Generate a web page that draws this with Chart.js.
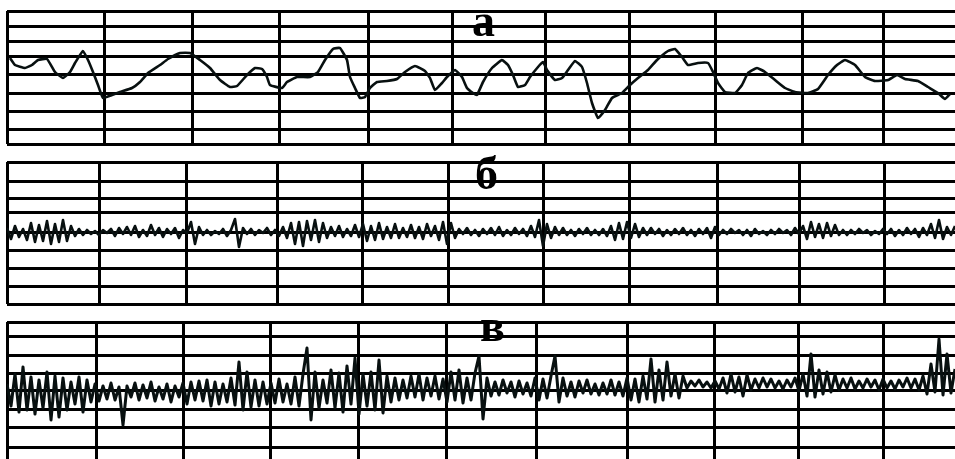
<!DOCTYPE html>
<html>
<head>
<meta charset="utf-8">
<script src="https://cdn.jsdelivr.net/npm/chart.js@4/dist/chart.umd.min.js"></script>
<style>
  html, body { margin: 0; padding: 0; background: #fff; }
  #wrap { position: relative; width: 955px; height: 459px; overflow: hidden; background: #fff; }
  canvas { position: absolute; left: 0; }
  .lbl { position: absolute; font: bold 46px "Liberation Serif", "DejaVu Serif", serif; line-height: 46px; color: #000; z-index: 5; }
</style>
</head>
<body>
<div id="wrap">
  <canvas id="ca" width="955" height="150" style="top:0px"></canvas>
  <canvas id="cb" width="955" height="159" style="top:150px"></canvas>
  <canvas id="cc" width="955" height="149" style="top:310px"></canvas>
  <div class="lbl" style="left:472px; top:-2px">а</div>
  <div class="lbl" style="left:475px; top:151px">б</div>
  <div class="lbl" style="left:480px; top:303px">в</div>
</div>
<script>
// ---------- panel labels ----------
const panelLabels = ["а", "б", "в"];

// ---------- grid (tick) positions ----------
const aTimeTicks = [0, 97, 185, 272, 361, 445, 538, 622, 708, 795, 876];
const bTimeTicks = [0, 92, 179, 270, 355, 441, 536, 622, 710, 792, 877];
const cTimeTicks = [0, 89, 176, 263, 351, 439, 529, 620, 707, 791, 876];
const aLevelTicks = [133, 118, 103, 88, 70, 51, 33, 15, 0];
const bLevelTicks = [70, 51, 34, 19, 0, -18, -36, -54, -72];
const cLevelTicks = [70, 55, 37, 19, 1, -17, -36, -55];

// ---------- trace а (time, value) ----------
const aTime = [3,8,18,25,31,40,48,56,63,68,76,81,86,91,96,105,113,125,133,141,153,161,173,183,193,203,213,223,230,240,248,255,260,263,275,280,290,303,311,318,326,333,340,343,348,353,358,363,370,380,390,398,408,418,423,428,435,440,448,455,460,466,470,476,485,495,501,506,511,518,523,531,536,540,548,555,561,568,575,580,585,591,598,605,615,623,631,641,650,661,668,675,681,691,701,706,711,718,728,735,741,750,758,768,778,788,801,811,821,830,838,848,858,868,881,890,898,911,921,931,938,943];
const aValues = [86,79,76,79,84,85,72,66,72,81,93,84,72,59,46,49,52,56,62,71,79,85,91,91,84,76,64,57,58,69,76,75,67,59,56,62,67,67,72,84,95,96,84,67,56,46,47,56,62,63,65,72,78,73,66,54,61,67,74,67,56,51,49,62,76,84,79,69,57,59,67,77,82,74,64,66,74,83,77,61,41,26,34,46,51,59,66,74,84,93,95,87,79,81,81,72,61,52,51,59,71,76,72,64,56,52,51,55,69,79,84,79,67,63,64,69,65,63,57,51,45,50];

// ---------- trace б (one sample every 4 time units) ----------
const sampleStep = 4;
const bValues = [
  4,-7,6,-5,3,-8,9,-10,7,-9,
  11,-12,8,-10,12,-9,6,-4,3,-3,
  2,-2,1,-3,2,-1,3,-4,4,-2,
  5,-3,6,-5,2,-4,7,-3,4,-5,
  3,-2,4,-6,2,-1,10,-12,5,-3,
  2,-3,1,-2,3,-4,2,13,-15,4,
  -2,3,-3,2,-1,4,-3,2,-4,5,
  -6,9,-12,10,-14,11,-8,12,-10,9,
  -6,5,-4,6,-5,3,-4,7,-5,8,
  -9,6,-8,9,-7,5,-6,8,-6,4,
  -5,7,-6,5,-7,8,-4,6,-8,10,
  -12,9,-6,3,-2,4,-3,2,-4,3,
  -2,4,-3,5,-4,2,-3,4,-2,3,
  -4,6,-5,12,-14,8,-6,5,-3,4,
  -3,2,-4,3,-2,4,-3,2,-3,3,
  -4,6,-8,9,-7,10,-6,8,-5,4,
  -3,4,-2,3,-4,2,-3,3,-2,4,
  -3,2,-4,3,-2,4,-6,5,-3,2,
  -2,3,-1,2,-3,2,-4,3,-2,1,
  -3,2,-2,3,-1,2,-3,4,-2,6,
  -7,10,-5,8,-6,9,-4,7,-3,2,
  -3,2,-2,3,-1,2,-3,1,-2,3,
  -2,3,-4,2,-3,4,-2,3,-5,4,
  -3,8,-6,12,-7,5,-3,6
];

// ---------- trace в (one sample every 4 time units) ----------
const cValues = [
  8,-14,18,-20,25,-18,15,-22,12,-16,
  20,-28,16,-25,14,-18,10,-12,15,-20,
  12,-10,8,-9,6,-7,9,-8,5,-33,
  6,-5,9,-8,7,-6,10,-9,5,-7,
  8,-10,6,-5,9,-12,10,-8,11,-9,
  12,-14,10,-12,8,-10,14,-13,30,-18,
  20,-15,12,-14,10,-12,9,-11,13,-10,
  8,-12,15,-14,18,44,-28,20,-16,12,
  -11,22,-16,19,-20,26,-12,34,-22,18,
  -14,20,-18,32,-21,16,-10,14,-8,12,
  -6,16,-5,18,-8,14,-4,16,-7,13,
  -10,20,-8,22,-11,14,-8,19,36,-27,
  14,-4,10,-3,12,-1,10,-5,11,-2,
  9,-4,14,-8,13,-6,16,36,-10,14,
  -4,10,-5,11,-1,12,-2,8,-3,9,
  -2,12,-3,10,-4,14,-8,13,-10,16,
  -7,33,-10,22,-8,30,-4,18,-6,16,
  4,11,6,12,5,10,4,11,3,14,
  -1,18,0,15,-4,17,2,13,4,14,
  5,13,4,11,3,12,5,14,1,18,
  -4,38,-5,22,-2,20,0,17,2,13,
  4,14,3,11,4,13,5,12,2,13,
  4,11,3,12,5,14,4,13,2,16,
  -2,28,0,53,-3,38,-1,23
];

// ---------- helpers ----------
const INK = '#081010';
const GRID = '#000000';

function makeChart(id, points, xTicks, yTicks, yMin, yMax, pad, lineW, tension) {
  return new Chart(document.getElementById(id), {
    type: 'line',
    data: {
      datasets: [{
        data: points,
        borderColor: INK,
        borderWidth: lineW,
        borderJoinStyle: 'round',
        pointRadius: 0,
        tension: tension,
        fill: false
      }]
    },
    options: {
      responsive: false,
      animation: false,
      devicePixelRatio: 1,
      layout: { padding: pad },
      plugins: { legend: { display: false }, tooltip: { enabled: false }, title: { display: false } },
      scales: {
        x: {
          type: 'linear',
          min: 0, max: 948,
          afterBuildTicks: (s) => { s.ticks = xTicks.map(v => ({ value: v })); },
          ticks: { display: false },
          border: { display: false },
          grid: { color: GRID, lineWidth: 3, drawTicks: false }
        },
        y: {
          type: 'linear',
          min: yMin, max: yMax,
          afterBuildTicks: (s) => { s.ticks = yTicks.map(v => ({ value: v })); },
          ticks: { display: false },
          border: { display: false },
          grid: { color: GRID, lineWidth: 3, drawTicks: false }
        }
      }
    }
  });
}

const aPoints = aTime.map((t, i) => ({ x: t, y: aValues[i] }));
const bPoints = bValues.map((v, i) => ({ x: i * sampleStep, y: v }));
const cPoints = cValues.map((v, i) => ({ x: i * sampleStep, y: v }));

makeChart('ca', aPoints, aTimeTicks, aLevelTicks, 0, 133, { left: 7, right: 0, top: 11, bottom: 6 }, 2.6, 0.12);
makeChart('cb', bPoints, bTimeTicks, bLevelTicks, -72, 70, { left: 7, right: 0, top: 12, bottom: 5 }, 2.6, 0);
makeChart('cc', cPoints, cTimeTicks, cLevelTicks, -67, 70, { left: 7, right: 0, top: 12, bottom: 0 }, 3, 0);
</script>
</body>
</html>
